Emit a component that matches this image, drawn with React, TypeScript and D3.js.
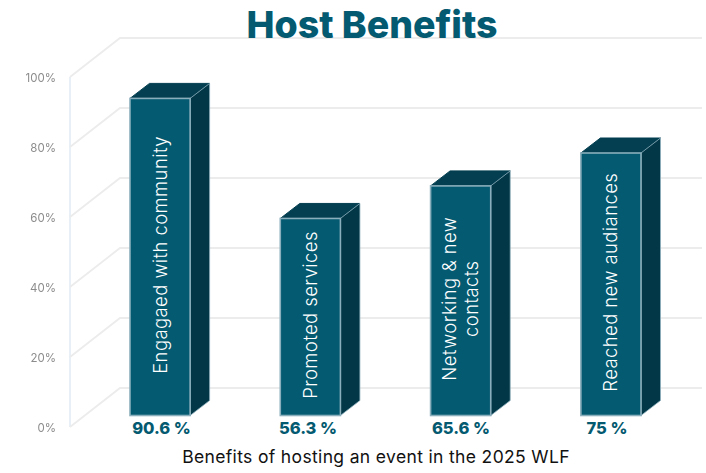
import React from "react";
import * as d3 from "d3";

const categories = ["Engagaed with community", "Promoted services", "Networking & new|contacts", "Reached new audiances"];
const values = [90.6, 56.3, 65.6, 75];
const valueLabels = ["90.6 %", "56.3 %", "65.6 %", "75 %"];
const valueLabelCenters = [161.5, 308, 461, 607];
const ticks = [0, 20, 40, 60, 80, 100];
const title = "Host Benefits";
const xTitle = "Benefits of hosting an event in the 2025 WLF";

const W = 706, H = 473;
const FONT = "Inter, 'Open Sans', sans-serif";
const x = d3.scaleBand<string>().domain(categories).range([130, 641]).paddingInner(0.6).paddingOuter(0);
const yFront = d3.scaleLinear().domain([0, 100]).range([427, 77]);
const yBack = d3.scaleLinear().domain([0, 100]).range([388, 38]);
const yBar = d3.scaleLinear().domain([0, 100]).range([415.5, 65.5]);
const DX = 19.5, DY = 15;

export default function App() {
  const bw = x.bandwidth();
  const line = d3.line();
  return (
    <svg width={W} height={H} viewBox={`0 0 ${W} ${H}`} style={{ position: "absolute", left: 0, top: 0, background: "#fff" }}>
      <defs>
        <filter id="soft" x="-10%" y="-10%" width="120%" height="120%"><feGaussianBlur stdDeviation="0.4" /></filter>
      </defs>
      <line x1={70} x2={70} y1={yFront(100)} y2={yFront(0)} stroke="#e6eef5" strokeWidth={1.8} />
      {ticks.map((t) => (
        <g key={t}>
          <path d={line([[70, yFront(t)], [120, yBack(t)], [702, yBack(t)]]) as string} fill="none" stroke="#ececec" strokeWidth={1.8} />
          <text x={56} y={yFront(t) + 2} textAnchor="end" dominantBaseline="middle" fontFamily={FONT} fontSize={11.5} fill="#8c8c8c" filter="url(#soft)">{t}%</text>
        </g>
      ))}
      <text x={372} y={38} textAnchor="middle" fontFamily={FONT} fontWeight={800} fontSize={37.5} fill="#045a70">{title}</text>
      {categories.map((c, i) => {
        const x0 = x(c) as number;
        const x1 = x0 + bw;
        const top = yBar(values[i]);
        const base = yBar(0);
        const lines = c.split("|");
        const cx = x0 + bw / 2;
        const cy = (top + base) / 2;
        return (
          <g key={c}>
            <path d={line([[x0, top], [x0 + DX, top - DY], [x1 + DX, top - DY], [x1, top]]) + "Z"} fill="#033f50" stroke="#033f50" strokeWidth={1} />
            <path d={line([[x1, top], [x1 + DX, top - DY], [x1 + DX, base - DY], [x1, base]]) + "Z"} fill="#023747" stroke="#8fb0be" strokeWidth={0.8} />
            <rect x={x0} y={top} width={bw} height={base - top} fill="#045a70" stroke="#8aaebc" strokeWidth={1.6} />
            <g transform={`translate(${cx + 1.5},${cy - 2}) rotate(-90)`}>
              {lines.map((l, j) => (
                <text key={l} x={0} y={(j - (lines.length - 1) / 2) * 22} textAnchor="middle" dominantBaseline="middle" fontFamily={FONT} fontWeight={300} fontSize={18.5} letterSpacing={0.4} fill="#ffffff">{l}</text>
              ))}
            </g>
            <text x={valueLabelCenters[i]} y={434} textAnchor="middle" fontFamily={FONT} fontWeight={800} fontSize={16.5} fill="#045a70">{valueLabels[i]}</text>
          </g>
        );
      })}
      <text x={376} y={463} textAnchor="middle" fontFamily={FONT} fontSize={17.5} letterSpacing={0.35} fill="#111">{xTitle}</text>
    </svg>
  );
}
